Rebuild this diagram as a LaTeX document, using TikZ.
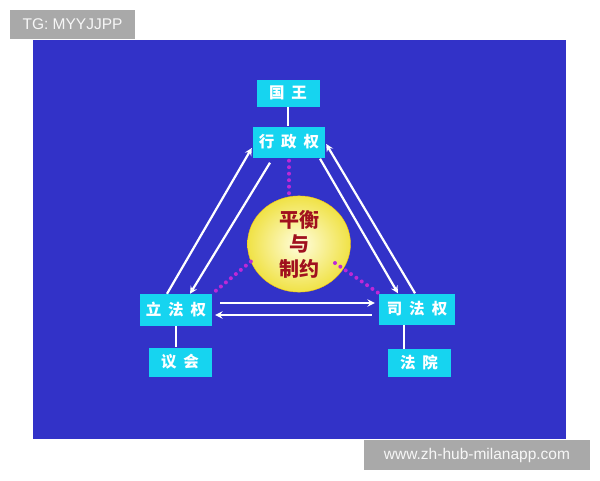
\documentclass[tikz,border=0pt]{standalone}
\usepackage{fontspec}
\setmainfont{Liberation Sans}
\newfontfamily\cjk{Noto Sans CJK SC}
\usepackage{tikz}
\usetikzlibrary{shapes.geometric, arrows}
\definecolor{bgblue}{RGB}{50,50,200}
\definecolor{boxcyan}{RGB}{22,212,240}
\definecolor{dotpurple}{RGB}{190,40,215}
\definecolor{wmgray}{RGB}{169,169,169}
\definecolor{balancered}{RGB}{160,16,30}
\definecolor{balanceout}{RGB}{240,226,70}
\definecolor{balancein}{RGB}{255,253,222}
\newcommand{\cgap}{\hspace{7pt}}
\tikzstyle{power} = [rectangle, fill=boxcyan, text=white, inner sep=0pt, font=\cjk\bfseries\fontsize{15.5}{17}\selectfont]
\tikzstyle{arrow} = [white, line width=2.2pt, ->, >=stealth]
\tikzstyle{link} = [white, line width=2.2pt]
\tikzstyle{check} = [dotpurple, line width=4pt, line cap=round, dash pattern=on 0pt off 6.5pt]
\tikzstyle{wmark} = [rectangle, fill=wmgray, text=white!94!gray, inner sep=0pt, font=\fontsize{15.5}{18}\selectfont]

\begin{document}
\begin{tikzpicture}[x=1pt, y=-1pt]
						\useasboundingbox (0, 0) rectangle (600, 480);
						\fill [bgblue] (33, 40) rectangle (566, 439);
						\node [power, minimum width=63pt, minimum height=27pt] (guowang) at (288, 93) {国\cgap 王};
						\node [power, minimum width=72pt, minimum height=31pt] (xingzheng) at (289, 142) {行\cgap 政\cgap 权};
						\node [power, minimum width=72pt, minimum height=32pt] (lifa) at (176, 310) {立\cgap 法\cgap 权};
						\node [power, minimum width=76pt, minimum height=31pt] (sifa) at (417, 309) {司\cgap 法\cgap 权};
						\node [power, minimum width=63pt, minimum height=29pt] (yihui) at (180, 362) {议\cgap 会};
						\node [power, minimum width=63pt, minimum height=28pt] (fayuan) at (419, 363) {法\cgap 院};
						\node [ellipse, minimum width=103pt, minimum height=85pt, inner sep=0pt, inner color=balancein, outer color=balanceout, draw=yellow!60!orange, thin, align=center, text=balancered, font=\cjk\bfseries\fontsize{20}{24.5}\selectfont] (heping) at (299, 244) {平衡\\与\\制约};
						% links to the institutions
						\coordinate (sifa link) at ([xshift=-13pt]sifa.south);
						\draw [link] (guowang.south) -- (guowang.south |- xingzheng.north);
						\draw [link] (lifa.south) -- (lifa.south |- yihui.north);
						\draw [link] (sifa link) -- (sifa link |- fayuan.north);
						% arrows between the three powers
						\draw [arrow] ([xshift=-9pt]lifa.north) -- ([xshift=-1pt, yshift=-6pt]xingzheng.west);
						\draw [arrow] ([xshift=-19pt, yshift=-5pt]xingzheng.south) -- ([xshift=14pt]lifa.north);
						\draw [arrow] ([xshift=-2pt]sifa.north) -- ([xshift=1pt, yshift=-2pt]xingzheng.east);
						\draw [arrow] ([xshift=31pt, yshift=-1pt]xingzheng.south) -- ([xshift=-19pt]sifa.north);
						\draw [arrow] ([xshift=8pt, yshift=7pt]lifa.east) -- ([xshift=-4pt, yshift=6pt]sifa.west);
						\draw [arrow] ([xshift=-7pt, yshift=-6pt]sifa.west) -- ([xshift=3pt, yshift=-5pt]lifa.east);
						% dotted checks
						\coordinate (balance dot) at ([xshift=36pt, yshift=-19pt]heping.center);
						\draw [check, shorten <=3pt] (xingzheng.south) -- (xingzheng.south |- heping.north);
						\draw [check] (heping.200) -- (lifa.north east);
						\draw [check] (balance dot) -- (sifa.north west);
						\node [wmark, minimum width=125pt, minimum height=29pt] (tg) at (72.5, 24.5) {TG: MYYJJPP};
						\node [wmark, minimum width=226pt, minimum height=30pt] (site) at (477, 455) {www.zh-hub-milanapp.com};
					\end{tikzpicture}
\end{document}
